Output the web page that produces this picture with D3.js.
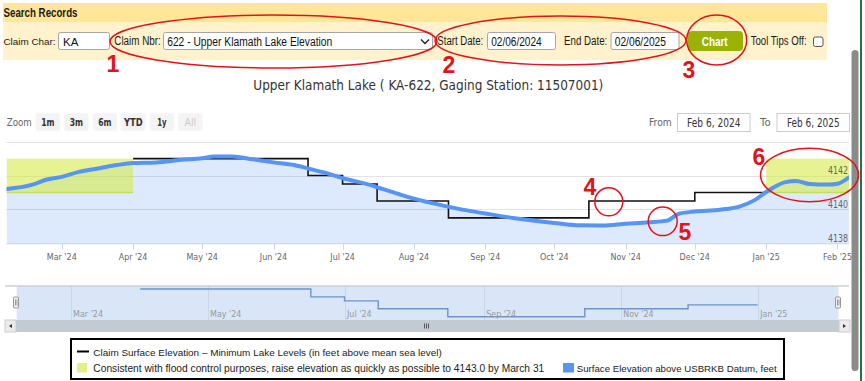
<!DOCTYPE html>
<html>
<head>
<meta charset="utf-8">
<script src="https://cdn.jsdelivr.net/npm/d3@7"></script>
<style>
body { margin: 0; background: #fff; }
svg { display: block; font-family: "Liberation Sans", Arial, sans-serif; }
.hc { font-family: "DejaVu Sans", Verdana, sans-serif; }
</style>
</head>
<body>
<div id="chart"></div>
<script>
// search form values
const claimChar = "KA";
const claimNbr = "622 - Upper Klamath Lake Elevation";
const startDate = "02/06/2024";
const endDate = "02/06/2025";

const chartTitle = "Upper Klamath Lake ( KA-622, Gaging Station: 11507001)";
const zoomButtons = ["1m", "3m", "6m", "YTD", "1y", "All"];
const yTicks = [4138, 4140, 4142, 4144];
const yLabels = [4138, 4140, 4142];

// claim minimum lake levels (step line)
const claimDates = ["2024-04-01", "2024-06-16", "2024-07-01", "2024-07-16", "2024-08-16", "2024-10-16", "2024-12-01", "2025-01-01"];
const claimLevels = [4143.0, 4142.0, 4141.5, 4140.5, 4139.5, 4140.5, 4141.0, 4141.0];

// flood control band
const floodStart = ["2024-02-06", "2025-01-01"];
const floodEnd = ["2024-04-01", "2025-02-06"];
const floodLow = 4141.0;
const floodHigh = 4143.0;

// surface elevation readings
const surfaceDates = ["2024-02-06", "2024-02-17", "2024-02-24", "2024-03-01", "2024-03-08", "2024-03-18", "2024-03-25",
  "2024-04-01", "2024-04-11", "2024-04-22", "2024-05-01", "2024-05-06", "2024-05-14", "2024-05-23", "2024-06-01",
  "2024-06-10", "2024-06-16", "2024-06-24", "2024-07-01", "2024-07-12", "2024-07-19", "2024-07-26", "2024-08-01",
  "2024-08-08", "2024-08-22", "2024-09-01", "2024-09-13", "2024-10-01", "2024-10-12", "2024-10-22", "2024-11-01",
  "2024-11-11", "2024-11-19", "2024-11-24", "2024-12-01", "2024-12-12", "2024-12-21", "2024-12-27", "2025-01-02",
  "2025-01-09", "2025-01-14", "2025-01-20", "2025-01-28", "2025-02-01", "2025-02-06"];
const surfaceValues = [4141.21, 4141.45, 4141.78, 4141.92, 4142.2, 4142.45, 4142.62,
  4142.74, 4142.77, 4142.93, 4143.02, 4143.12, 4143.13, 4142.96, 4142.78,
  4142.62, 4142.42, 4142.14, 4141.85, 4141.48, 4141.18, 4140.88, 4140.64,
  4140.4, 4139.99, 4139.76, 4139.5, 4139.2, 4139.06, 4139.05, 4139.15,
  4139.24, 4139.34, 4139.74, 4139.88, 4139.98, 4140.2, 4140.55, 4141.12,
  4141.6, 4141.68, 4141.5, 4141.47, 4141.52, 4141.9];

const legendItems = [
  "Claim Surface Elevation – Minimum Lake Levels (in feet above mean sea level)",
  "Consistent with flood control purposes, raise elevation as quickly as possible to 4143.0 by March 31",
  "Surface Elevation above USBRKB Datum, feet"
];

const red = "#e3131c";
const blue = "#5694f6";
const parse = d3.timeParse("%Y-%m-%d");
const fmt = d3.timeFormat("%b '%y");

const svg = d3.select("#chart").append("svg")
    .attr("width", 865)
    .attr("height", 381);

// squeeze text to a given width
function fit(sel, w) {
    sel.attr("textLength", w).attr("lengthAdjust", "spacingAndGlyphs");
    return sel;
}
// shrink the font first when the text is wider than w, then squeeze
function fitSize(sel, w) {
    const nat = sel.node().getComputedTextLength();
    if (nat > w) {
        const fs = parseFloat(sel.attr("font-size"));
        sel.attr("font-size", (fs * w / nat).toFixed(2));
    }
    return fit(sel, w);
}
function squeeze(sel, k) {
    sel.each(function() {
        const w = this.getComputedTextLength();
        d3.select(this).attr("textLength", w * k).attr("lengthAdjust", "spacingAndGlyphs");
    });
}

// ---------- search form ----------
svg.append("rect").attr("x", 3).attr("y", 3).attr("width", 824).attr("height", 19).attr("fill", "#ffe699");
svg.append("rect").attr("x", 3).attr("y", 22).attr("width", 824).attr("height", 38).attr("fill", "#fff2cc");
fit(svg.append("text").attr("x", 3.5).attr("y", 16.5).attr("font-size", 12).attr("font-weight", "bold")
    .attr("fill", "#1a1a1a").text("Search Records"), 74);

function label(x, txt, w, fs) {
    return fit(svg.append("text").attr("x", x).attr("y", 45).attr("font-size", fs || 12).attr("fill", "#1a1a1a").text(txt), w);
}
function box(x, w, txt, tw) {
    svg.append("rect").attr("x", x).attr("y", 32.5).attr("width", w).attr("height", 17).attr("rx", 2)
        .attr("fill", "#fff").attr("stroke", "#a6a6a6");
    const t = svg.append("text").attr("x", x + 3.7).attr("y", 45.5).attr("font-size", 12.5).attr("fill", "#111").text(txt);
    if (tw) fit(t, tw);
    return t;
}
fitSize(svg.append("text").attr("x", 3.5).attr("y", 45).attr("font-size", 12).attr("fill", "#1a1a1a").text("Claim Char:"), 52);
box(58.5, 51, claimChar).attr("x", 63).attr("font-size", 11.5);
label(114.3, "Claim Nbr:", 46.5);
box(163.5, 269, claimNbr, 165);
svg.append("path").attr("d", "M421,39.5 L425,43.5 L429,39.5").attr("fill", "none").attr("stroke", "#222").attr("stroke-width", 1.4);
label(437.3, "Start Date:", 46);
box(487.5, 68, startDate, 50.5);
label(564, "End Date:", 43.3);
box(611, 68, endDate, 51.3);
svg.append("rect").attr("x", 688).attr("y", 31).attr("width", 55).attr("height", 20).attr("rx", 4).attr("fill", "#9bb204");
fit(svg.append("text").attr("x", 701.7).attr("y", 45.5).attr("font-size", 12.5).attr("font-weight", "bold")
    .attr("fill", "#fff").text("Chart"), 26);
label(750.7, "Tool Tips Off:", 56);
svg.append("rect").attr("x", 813.5).attr("y", 37).attr("width", 9.5).attr("height", 9.5).attr("rx", 2)
    .attr("fill", "#fff").attr("stroke", "#555");

// window scrollbar and border on the right
svg.append("rect").attr("x", 851.5).attr("y", 50).attr("width", 7).attr("height", 321).attr("rx", 3.5).attr("fill", "#8b8b8b");
svg.append("rect").attr("x", 860).attr("y", 0).attr("width", 2).attr("height", 381).attr("fill", "#217346");

// ---------- chart ----------
const g = svg.append("g").attr("class", "hc");

fit(g.append("text").attr("x", 253.3).attr("y", 90).attr("font-size", 14.5).attr("fill", "#333").text(chartTitle), 350);

// range selector
fit(g.append("text").attr("x", 6.7).attr("y", 126).attr("font-size", 11).attr("fill", "#666").text("Zoom"), 25);
const btnW = [13.3, 13.3, 13.3, 18.7, 9.3, 11.7];
zoomButtons.forEach((b, i) => {
    const bx = 35.7 + i * 28.5;
    g.append("rect").attr("x", bx).attr("y", 113.3).attr("width", 24.3).attr("height", 17.4).attr("rx", 2).attr("fill", "#f4f4f4");
    fit(g.append("text").attr("x", bx + 12.15).attr("y", 125.5).attr("text-anchor", "middle").attr("font-size", 11)
        .attr("font-weight", b === "All" ? "normal" : "bold")
        .attr("fill", b === "All" ? "#cccccc" : "#333").text(b), btnW[i]);
});
fit(g.append("text").attr("x", 649).attr("y", 126).attr("font-size", 11).attr("fill", "#666").text("From"), 22.7);
fit(g.append("text").attr("x", 760).attr("y", 126).attr("font-size", 11).attr("fill", "#666").text("To"), 10.7);
[[677.5, "Feb 6, 2024", 53.3], [777, "Feb 6, 2025", 52.7]].forEach(d => {
    g.append("rect").attr("x", d[0]).attr("y", 113.5).attr("width", 72.5).attr("height", 18).attr("fill", "#fff").attr("stroke", "#ccc");
    fit(g.append("text").attr("x", d[0] + 36.25).attr("y", 126.5).attr("text-anchor", "middle").attr("font-size", 11.5)
        .attr("fill", "#333").text(d[1]), d[2]);
});

// scales
const x = d3.scaleTime().domain([parse("2024-02-06"), parse("2025-02-06")]).range([6.5, 849]);
const y = d3.scaleLinear().domain([4138, 4144]).range([243.3, 141.7]);

const surface = surfaceDates.map((d, i) => ({ date: parse(d), value: surfaceValues[i] }));
const claim = claimDates.map((d, i) => ({ date: parse(d), value: claimLevels[i] }));

// grid
g.selectAll(".grid").data(yTicks).enter().append("line")
    .attr("x1", 6.5).attr("x2", 849)
    .attr("y1", d => Math.round(y(d)) + 0.5).attr("y2", d => Math.round(y(d)) + 0.5)
    .attr("stroke", "#e3e3e3");

g.append("clipPath").attr("id", "plotClip").append("rect")
    .attr("x", 6.5).attr("y", 130).attr("width", 842.5).attr("height", 113.3);
const plot = g.append("g").attr("clip-path", "url(#plotClip)");

// surface area
plot.append("path").datum(surface)
    .attr("d", d3.area().x(d => x(d.date)).y0(y(4138)).y1(d => y(d.value)).curve(d3.curveMonotoneX))
    .attr("fill", blue).attr("fill-opacity", 0.2);

// flood control band
const bands = floodStart.map((s, i) => ({ s: parse(s), e: parse(floodEnd[i]) }));
plot.selectAll(".band").data(bands).enter().append("rect")
    .attr("x", d => x(d.s)).attr("width", d => x(d.e) - x(d.s))
    .attr("y", y(floodHigh)).attr("height", y(floodLow) - y(floodHigh))
    .attr("fill", "#d3ea3a").attr("fill-opacity", 0.55);
plot.selectAll(".bandEdge").data(bands).enter().append("line")
    .attr("x1", d => x(d.s)).attr("x2", d => x(d.e))
    .attr("y1", y(floodLow)).attr("y2", y(floodLow))
    .attr("stroke", "#c6dd52").attr("stroke-width", 1.5);

// claim minimum levels
plot.append("path").datum(claim)
    .attr("d", d3.line().x(d => x(d.date)).y(d => y(d.value)).curve(d3.curveStepAfter))
    .attr("fill", "none").attr("stroke", "#111").attr("stroke-width", 1.6);

// surface line
plot.append("path").datum(surface)
    .attr("d", d3.line().x(d => x(d.date)).y(d => y(d.value)).curve(d3.curveMonotoneX))
    .attr("fill", "none").attr("stroke", blue).attr("stroke-width", 4).attr("stroke-linecap", "round");

// y labels
const yl = g.selectAll(".ylab").data(yLabels).enter().append("text")
    .attr("x", 848).attr("y", d => y(d) - 1.3)
    .attr("text-anchor", "end").attr("font-size", 10.5).attr("fill", "#666")
    .text(d => d);
fit(yl, 20);

// x axis
const months = d3.timeMonth.range(parse("2024-03-01"), parse("2025-02-02"));
g.append("line").attr("x1", 6.5).attr("x2", 849).attr("y1", 243.8).attr("y2", 243.8).attr("stroke", "#ccd6eb");
g.selectAll(".xtick").data(months).enter().append("line")
    .attr("x1", d => Math.round(x(d)) + 0.5).attr("x2", d => Math.round(x(d)) + 0.5)
    .attr("y1", 243.8).attr("y2", 249.5).attr("stroke", "#ccd6eb");
const xl = g.selectAll(".xlab").data(months).enter().append("text")
    .attr("x", d => x(d)).attr("y", 259.5)
    .attr("text-anchor", "middle").attr("font-size", 9.5).attr("fill", "#666")
    .text(d => fmt(d));
squeeze(xl, 0.84);

// ---------- navigator ----------
const nx = d3.scaleTime().domain(x.domain()).range([16.7, 838.5]);
const ny = d3.scaleLinear().domain([4139.5, 4143]).range([316.7, 289]);
const navTicks = d3.timeMonth.every(2).range(parse("2024-03-01"), parse("2025-01-02"));

g.append("rect").attr("x", 16.7).attr("y", 286).attr("width", 821.8).attr("height", 34).attr("fill", "#d8e6f7");
g.selectAll(".ngrid").data(navTicks).enter().append("line")
    .attr("x1", d => Math.round(nx(d)) + 0.5).attr("x2", d => Math.round(nx(d)) + 0.5)
    .attr("y1", 286).attr("y2", 320).attr("stroke", "#c8d6ea");
g.append("line").attr("x1", 5).attr("x2", 849).attr("y1", 286).attr("y2", 286).attr("stroke", "#cfcfcf").attr("stroke-width", 1.5);
g.append("path").datum(claim)
    .attr("d", d3.line().x(d => nx(d.date)).y(d => ny(d.value)).curve(d3.curveStepAfter))
    .attr("fill", "none").attr("stroke", "#6f93cc").attr("stroke-width", 1.4);
const nl = g.selectAll(".nlab").data(navTicks).enter().append("text")
    .attr("x", d => nx(d) + 2.5).attr("y", 317)
    .attr("font-size", 9.5).attr("fill", "#999")
    .text(d => fmt(d));
squeeze(nl, 0.84);

// handles
[14, 836].forEach(hx => {
    g.append("rect").attr("x", hx - 0.5).attr("y", 297).attr("width", 5).attr("height", 11).attr("rx", 1)
        .attr("fill", "#f2f2f2").attr("stroke", "#999");
    g.append("line").attr("x1", hx + 1.5).attr("x2", hx + 1.5).attr("y1", 299.5).attr("y2", 305.5).attr("stroke", "#999");
    g.append("line").attr("x1", hx + 3).attr("x2", hx + 3).attr("y1", 299.5).attr("y2", 305.5).attr("stroke", "#999");
});

// scrollbar
g.append("rect").attr("x", 5).attr("y", 320).attr("width", 845).attr("height", 12).attr("fill", "#c3cad2");
[[5, "M12,324 L9,326 L12,328 Z"], [839, "M843,324 L846,326 L843,328 Z"]].forEach(d => {
    g.append("rect").attr("x", d[0]).attr("y", 320).attr("width", 11).attr("height", 12).attr("fill", "#ebebeb").attr("stroke", "#ccc");
    g.append("path").attr("d", d[1]).attr("fill", "#333");
});
[424.5, 426.5, 428.5].forEach(gx => {
    g.append("line").attr("x1", gx).attr("x2", gx).attr("y1", 323.5).attr("y2", 328.5).attr("stroke", "#555");
});

// ---------- legend ----------
const lg = svg.append("g");
lg.append("rect").attr("x", 71).attr("y", 339).attr("width", 713).attr("height", 40)
    .attr("fill", "#fff").attr("stroke", "#000").attr("stroke-width", 2);
lg.append("line").attr("x1", 77).attr("x2", 89).attr("y1", 351.5).attr("y2", 351.5).attr("stroke", "#000").attr("stroke-width", 2);
fitSize(lg.append("text").attr("x", 93.3).attr("y", 355.5).attr("font-size", 11).attr("fill", "#222").text(legendItems[0]), 348.4);
lg.append("rect").attr("x", 77).attr("y", 363).attr("width", 10).attr("height", 9.5).attr("fill", "#e2f088");
fitSize(lg.append("text").attr("x", 93.3).attr("y", 372).attr("font-size", 11).attr("fill", "#222").text(legendItems[1]), 451);
lg.append("rect").attr("x", 563).attr("y", 363).attr("width", 11).attr("height", 9.5).attr("fill", blue);
fitSize(lg.append("text").attr("x", 576.7).attr("y", 372).attr("font-size", 11).attr("fill", "#222").text(legendItems[2]), 200);

// ---------- red annotations ----------
const ann = svg.append("g");
const rings = [
    { cx: 273.5, cy: 41.5, rx: 163.5, ry: 26.5 },
    { cx: 560.5, cy: 40.5, rx: 125.5, ry: 24.5 },
    { cx: 716.7, cy: 40, rx: 30, ry: 25 },
    { cx: 608.8, cy: 201.8, rx: 14, ry: 14 },
    { cx: 662.7, cy: 221.3, rx: 14.5, ry: 14.3 },
    { cx: 809.5, cy: 175, rx: 49, ry: 26.7 }
];
ann.selectAll("ellipse").data(rings).enter().append("ellipse")
    .attr("cx", d => d.cx).attr("cy", d => d.cy).attr("rx", d => d.rx).attr("ry", d => d.ry)
    .attr("fill", "none").attr("stroke", red).attr("stroke-width", 1.5);
const marks = [
    { n: "1", x: 106.5, y: 72 },
    { n: "2", x: 442.5, y: 73 },
    { n: "3", x: 682.5, y: 78 },
    { n: "4", x: 583.5, y: 195 },
    { n: "5", x: 678.5, y: 240 },
    { n: "6", x: 752.5, y: 165 }
];
ann.selectAll("text").data(marks).enter().append("text")
    .attr("x", d => d.x).attr("y", d => d.y)
    .attr("font-size", 23).attr("font-weight", "bold").attr("fill", red)
    .text(d => d.n);
</script>
</body>
</html>
